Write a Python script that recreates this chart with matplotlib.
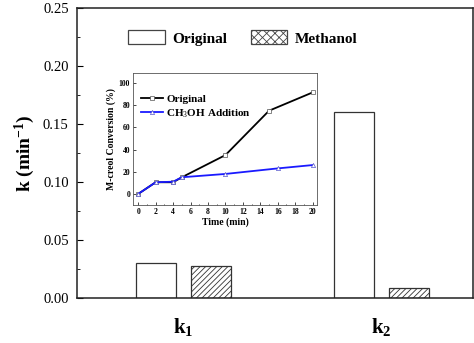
import matplotlib.pyplot as plt
from matplotlib.ticker import MultipleLocator

plt.rcParams['font.family'] = ['Liberation Serif', 'DejaVu Serif']
plt.rcParams['mathtext.fontset'] = 'custom'
plt.rcParams['mathtext.rm'] = 'Liberation Serif'
plt.rcParams['mathtext.bf'] = 'Liberation Serif:bold'
plt.rcParams['mathtext.it'] = 'Liberation Serif:italic'
plt.rcParams['hatch.linewidth'] = 0.6

# main bars
groups = ['$\\mathbf{k_1}$', '$\\mathbf{k_2}$']
k_original = [0.030, 0.160]
k_methanol = [0.028, 0.009]

# inset curves
t_original = [0, 2, 4, 5, 10, 15, 20]
conv_original = [0, 10.5, 10.5, 15, 35, 75, 91.5]
t_meoh = [0, 2, 4, 5, 10, 16, 20]
conv_meoh = [0, 10.5, 11, 15, 18, 23, 26]

fig = plt.figure(figsize=(4.74, 3.43), dpi=100)
ax = fig.add_axes([77/474, 1 - 298/343, 396/474, 290/343])

x = [0, 1]
w = 0.202
ax.bar([i - 0.139 for i in x], k_original, w, facecolor='white', edgecolor='#333333', lw=0.9, label='Original')
ax.bar([i + 0.139 for i in x], k_methanol, w, facecolor='white', edgecolor='#333333', lw=0.9, hatch='//////', label='Methanol')

ax.set_xlim(-0.538, 1.462)
ax.set_ylim(0, 0.25)
ax.set_xticks(x)
ax.set_xticklabels(groups, fontsize=15)
ax.tick_params(axis='x', length=0, pad=13)
ax.yaxis.set_major_locator(MultipleLocator(0.05))
ax.yaxis.set_minor_locator(MultipleLocator(0.025))
ax.tick_params(axis='y', which='major', direction='in', length=4, labelsize=10.5, pad=6)
ax.tick_params(axis='y', which='minor', direction='in', length=2)
ax.yaxis.set_major_formatter(plt.FormatStrFormatter('%.2f'))
ax.set_ylabel('k (min$^{\\mathbf{-1}}$)', fontsize=14, fontweight='bold', labelpad=4)
for s in ax.spines.values():
    s.set_linewidth(1.1)
    s.set_color('#222222')

leg_handles = [plt.Rectangle((0, 0), 1, 1, facecolor='white', edgecolor='#444444', lw=0.9),
               plt.Rectangle((0, 0), 1, 1, facecolor='white', edgecolor='#444444', lw=0.9, hatch='xxxx')]
ax.legend(leg_handles, ['Original', 'Methanol'], loc='upper left', bbox_to_anchor=(0.095, 0.97),
          ncol=2, frameon=False, prop={'weight': 'bold', 'size': 11}, handlelength=2.4,
          handleheight=1.0, columnspacing=1.5, handletextpad=0.5)

# inset
ins = fig.add_axes([133/474, 1 - 205/343, 184/474, 132/343])
ins.plot(t_original, conv_original, color='black', lw=1.3, marker='s', ms=3,
         mfc='white', mec='#555555', mew=0.5, label='Original')
ins.plot(t_meoh, conv_meoh, color='#1a1aff', lw=1.3, marker='^', ms=3,
         mfc='white', mec='#5555cc', mew=0.5, label='CH$_3$OH Addition')
ins.set_xlim(-0.6, 20.5)
ins.set_ylim(-10, 109)
ins.set_xticks(range(0, 21, 2))
ins.set_yticks(range(0, 101, 20))
ins.xaxis.set_minor_locator(MultipleLocator(1))
ins.tick_params(which='major', direction='in', length=2, labelsize=5.5, pad=2, width=0.5)
ins.tick_params(which='minor', direction='in', length=1, width=0.5)
for lab in ins.get_xticklabels() + ins.get_yticklabels():
    lab.set_fontweight('bold')
ins.set_xlabel('Time (min)', fontsize=7, fontweight='bold', labelpad=1)
ins.set_ylabel('M-creol Conversion (%)', fontsize=7, fontweight='bold', labelpad=2)
for s in ins.spines.values():
    s.set_linewidth(0.6)
    s.set_color('#555555')
ins.legend(loc='upper left', bbox_to_anchor=(0.0, 0.9), frameon=False,
           prop={'weight': 'bold', 'size': 8}, handlelength=2.0, handletextpad=0.3,
           labelspacing=0.3, borderaxespad=0.3)

fig.savefig('out.png', dpi=100)
